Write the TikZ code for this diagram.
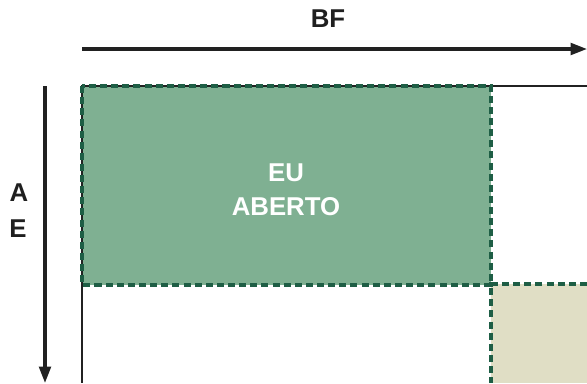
\documentclass[tikz,border=0pt]{standalone}
\usepackage{fontspec}
\setmainfont{Liberation Sans}
\usetikzlibrary{arrows.meta}
\definecolor{euGreen}{HTML}{7FB092}
\definecolor{dashGreen}{HTML}{1E5E45}
\definecolor{beige}{HTML}{E0DEC5}
\tikzset{
	axis/.style={line width=2.6pt, draw={rgb:black,1;white,0.15}, -{Triangle[length=14pt, width=10pt]}},
	gridline/.style={line width=1pt, draw={rgb:black,1;white,0.15}},
	border/.style={line width=2.6pt, draw=dashGreen, dash pattern=on 6pt off 3.5pt},
	label/.style={font=\fontsize{22}{26}\selectfont\bfseries, text=black!88},
}
\begin{document}
\begin{tikzpicture}[x=0.03cm, y=-0.03cm]
	\useasboundingbox (0, 0) rectangle (587, 383);
	% Felder
	\fill[fill=euGreen] (82, 86) rectangle (491, 285);
	\fill[fill=beige] (491, 284) rectangle (587, 383);
	% Gitter
	\coordinate (top) at (82, 86);
	\coordinate (topend) at (587, 86);
	\coordinate (bottom) at (82, 383);
	\draw[gridline] (topend) -- (top) -- (bottom);
	% Ränder gestrichelt
	\draw[border] (82, 86) rectangle (491, 285);
	\draw[border] (587, 284) -- (491, 284) -- (491, 383);
	% Achsen
	\coordinate (bfstart) at (82, 49);
	\coordinate (bfend) at (587, 49);
	\coordinate (aestart) at (45, 86);
	\coordinate (aeend) at (45, 383);
	\draw[axis] (bfstart) -- (bfend);
	\draw[axis] (aestart) -- (aeend);
	% Beschriftungen
	\node[label] (bf) at (328, 19) {BF};
	\node[label] (a) at (19, 193) {A};
	\node[label] (e) at (18, 229) {E};
	\node[label, text=white, align=center, font=\fontsize{22}{29}\selectfont\bfseries] (eu) at (286, 190) {EU\\ABERTO};
\end{tikzpicture}
\end{document}
